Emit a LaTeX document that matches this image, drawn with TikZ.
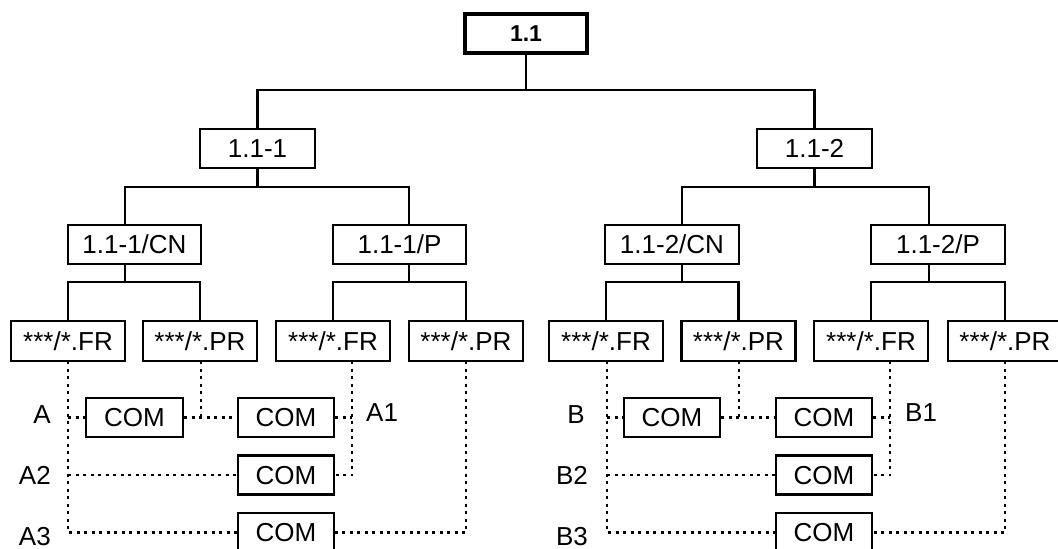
\documentclass[tikz,border=0pt]{standalone}
\usepackage{fontspec}
\setmainfont{Liberation Sans}
\begin{document}
\begin{tikzpicture}[x=1pt,y=-1pt,
  box/.style={draw, line width=2.3pt, minimum height=39pt, inner sep=0pt,
    text height=18.7pt, text depth=0pt, font=\fontsize{26}{30}\selectfont},
  topbox/.style={box, line width=3.2pt, text height=16.5pt, font=\bfseries\fontsize{23}{28}\selectfont},
  conn/.style={line width=2.3pt},
  dotline/.style={line width=2.3pt, dash pattern=on 3pt off 4.5pt},
  lab/.style={inner sep=0pt, text height=18.7pt, text depth=0pt, font=\fontsize{26}{30}\selectfont}]
\useasboundingbox (0,0) rectangle (1058,549);
\clip (0,0) rectangle (1058,549);

% nodes
\node[topbox, minimum width=122pt] (top) at (526,33.5) {1.1};
\node[box, minimum width=115pt] (b1) at (257.5,148.5) {1.1-1};
\node[box, minimum width=115pt] (b2) at (814.5,148.5) {1.1-2};
\node[box, minimum width=133pt] (c1) at (134.5,244.5) {1.1-1/CN};
\node[box, minimum width=133pt] (c2) at (399.5,244.5) {1.1-1/P};
\node[box, minimum width=134pt] (c3) at (672,244.5) {1.1-2/CN};
\node[box, minimum width=134pt] (c4) at (938,244.5) {1.1-2/P};

\node[box, minimum width=114pt, minimum height=40pt] (d1) at (68,341) {***/*.FR};
\node[box, minimum width=114pt, minimum height=40pt] (d2) at (200,341) {***/*.PR};
\node[box, minimum width=114pt, minimum height=40pt] (d3) at (333,341) {***/*.FR};
\node[box, minimum width=114pt, minimum height=40pt] (d4) at (466,341) {***/*.PR};
\node[box, minimum width=114pt, minimum height=40pt] (d5) at (606,341) {***/*.FR};
\node[box, minimum width=114pt, minimum height=40pt] (d6) at (738.5,341) {***/*.PR};
\node[box, minimum width=114pt, minimum height=40pt] (d7) at (871,341) {***/*.FR};
\node[box, minimum width=114pt, minimum height=40pt] (d8) at (1005,341) {***/*.PR};

\node[box, minimum width=97pt] (ca1) at (134.5,417.5) {COM};
\node[box, minimum width=96pt] (ca2) at (286,417.5) {COM};
\node[box, minimum width=96pt] (ca3) at (286,475) {COM};
\node[box, minimum width=96pt] (ca4) at (286,532.5) {COM};
\node[box, minimum width=96pt] (cb1) at (672,417.5) {COM};
\node[box, minimum width=96pt] (cb2) at (824,417.5) {COM};
\node[box, minimum width=96pt] (cb3) at (824,475) {COM};
\node[box, minimum width=96pt] (cb4) at (824,532.5) {COM};

% labels
\node[lab, anchor=east] (lA) at (51,414) {A};
\node[lab, anchor=east] (lA2) at (51,475) {A2};
\node[lab, anchor=east] (lA3) at (51,536) {A3};
\node[lab, anchor=west] (lA1) at (366,412) {A1};
\node[lab, anchor=east] (lB) at (585,414) {B};
\node[lab, anchor=east] (lB2) at (588,475) {B2};
\node[lab, anchor=east] (lB3) at (588,536) {B3};
\node[lab, anchor=west] (lB1) at (905,412) {B1};

% solid tree connectors
\coordinate (j0) at (526,90);
\draw[conn] (top.south) -- (j0);
\draw[conn] (b1.north) |- (j0) -| (b2.north);

\coordinate (j1a) at (125,187);
\coordinate (j1b) at (409,187);
\draw[conn] (b1.south) -- (b1.south |- j1a);
\draw[conn] (j1a |- c1.north) -- (j1a) -- (j1b) -- (j1b |- c2.north);
\coordinate (j2a) at (682,187);
\coordinate (j2b) at (929,187);
\draw[conn] (b2.south) -- (b2.south |- j2a);
\draw[conn] (j2a |- c3.north) -- (j2a) -- (j2b) -- (j2b |- c4.north);

\coordinate (k1) at (125,282);
\coordinate (k2) at (409,282);
\coordinate (k3) at (682,282);
\coordinate (k4) at (929,282);
\draw[conn] (k1 |- c1.south) -- (k1);
\draw[conn] (k2 |- c2.south) -- (k2);
\draw[conn] (k3 |- c3.south) -- (k3);
\draw[conn] (k4 |- c4.south) -- (k4);
\draw[conn] (d1.north) -- (d1.north |- k1) -- (d2.north |- k1) -- (d2.north);
\draw[conn] (d3.north) -- (d3.north |- k2) -- (d4.north |- k2) -- (d4.north);
\draw[conn] (d5.north) -- (d5.north |- k3) -- (d6.north |- k3) -- (d6.north);
\draw[conn] (d7.north) -- (d7.north |- k4) -- (d8.north |- k4) -- (d8.north);

% dotted connectors, left group
\coordinate (p1) at (68,361);
\coordinate (p2) at (201,361);
\coordinate (p3) at (352,361);
\coordinate (p4) at (466,361);
\draw[dotline] (p1) |- (ca4.west);
\draw[dotline] (p1 |- ca1.west) -- (ca1.west);
\draw[dotline] (p1 |- ca3.west) -- (ca3.west);
\draw[dotline] (ca1.east) -- (ca2.west);
\draw[dotline] (p2) -- (p2 |- ca1.east);
\draw[dotline] (ca2.east) -- (ca2.east -| p3);
\draw[dotline] (p3) |- (ca3.east);
\draw[dotline] (p4) |- (ca4.east);

% dotted connectors, right group
\coordinate (q1) at (607,361);
\coordinate (q2) at (739,361);
\coordinate (q3) at (890,361);
\coordinate (q4) at (1005,361);
\draw[dotline] (q1) |- (cb4.west);
\draw[dotline] (q1 |- cb1.west) -- (cb1.west);
\draw[dotline] (q1 |- cb3.west) -- (cb3.west);
\draw[dotline] (cb1.east) -- (cb2.west);
\draw[dotline] (q2) -- (q2 |- cb1.east);
\draw[dotline] (cb2.east) -- (cb2.east -| q3);
\draw[dotline] (q3) |- (cb3.east);
\draw[dotline] (q4) |- (cb4.east);
\end{tikzpicture}
\end{document}
